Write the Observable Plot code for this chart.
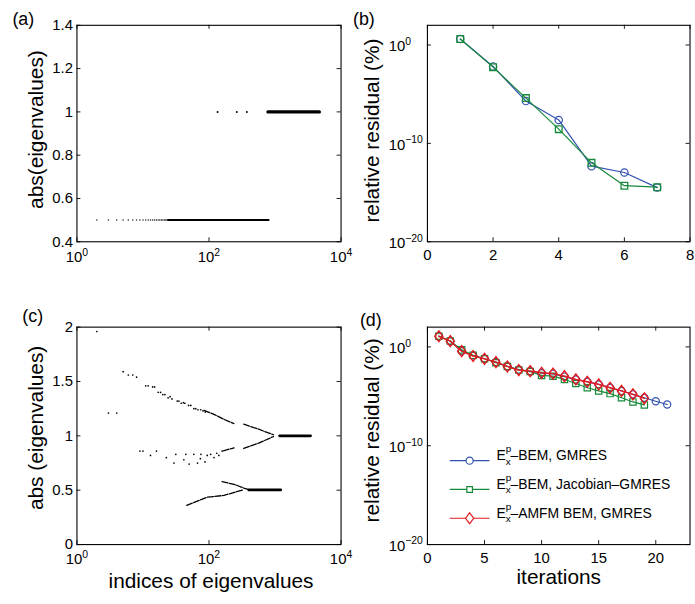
<!DOCTYPE html>
<html><head><meta charset="utf-8">
<script src="https://cdn.jsdelivr.net/npm/d3@7"></script>
<script src="https://cdn.jsdelivr.net/npm/@observablehq/plot@0.6"></script>
<style>
html,body{margin:0;padding:0;background:#fff;overflow:hidden}
#fig{position:relative;width:695px;height:604px;overflow:hidden;background:#fff}
#fig svg{position:absolute;left:0;top:0;background:transparent;overflow:visible}
</style></head><body><div id="fig"></div>
<script>
// ---------------- data ----------------
// (a) |eigenvalues| of preconditioned system
const aXTicks = [1, 1e2, 1e4];
const aYTicks = [0.4, 0.6, 0.8, 1, 1.2, 1.4];
const aHalfIdx = [2,3,4,5,6,7,8,9,10,11,12,13,14,15,16,17,18,19,20,21,22,23,24];
const aHalfRun = [[24, 0.5], [800, 0.5]];
const aOneIdx = [135, 264, 375];
const aOneRun = [[780, 1], [4700, 1]];

// (b) convergence, 7 iterations
const bIter = [1, 2, 3, 4, 5, 6, 7];
const bGmres = [4.0e0, 6.6e-3, 2.0e-6, 2.4e-8, 4.8e-13, 1.1e-13, 3.2e-15];
const bJacobi = [4.0e0, 5.6e-3, 4.0e-6, 2.8e-9, 1.05e-12, 5.0e-15, 3.5e-15];
const bXTicks = [0, 2, 4, 6, 8];
const logYTicks = [1e-20, 1e-10, 1e0];

// (c) |eigenvalues| of unpreconditioned system
const cXTicks = [1, 1e2, 1e4];
const cYTicks = [0, 0.5, 1, 1.5, 2];
const cDotIdx = [2,3,4,5,6,7,8,11,12,14,15,17,18.5,20,21.5,24,25.7,27.5,33,35,38,41,43,49,53,59,63,68,75,81,88,
                 9,10,13,16,22.6,29.5,31.4,41.6,44.6,50,59,67,74,75.5,87,94,106,119,131,141,158];
const cDotVal = [1.96,1.21,1.21,1.59,1.56,1.56,1.54,1.46,1.46,1.45,1.45,1.40,1.40,1.38,1.38,1.35,1.36,1.34,1.32,1.32,1.30,1.305,1.30,1.28,1.28,1.25,1.25,1.24,1.24,1.23,1.22,
                 0.86,0.86,0.82,0.86,0.80,0.75,0.83,0.78,0.83,0.74,0.83,0.75,0.79,0.83,0.76,0.82,0.83,0.80,0.84,0.82,0.86];
const cThinRuns = [
  [[84,1.235],[119,1.198],[168,1.152],[238,1.113]],
  [[336,1.107],[565,1.061],[949,1.01]],
  [[165,0.862],[240,0.89]],
  [[336,0.884],[565,0.933],[949,0.994]],
  [[46,0.36],[93,0.435],[168,0.452],[336,0.505]],
  [[158,0.58],[250,0.55],[336,0.52],[400,0.505]]
];
const cThickRuns = [
  [[1170,1.0],[3460,1.0]],
  [[400,0.503],[1222,0.503]]
];

// (d) convergence, 3 solvers
const dIter = [1,2,3,4,5,6,7,8,9,10,11,12,13,14,15,16,17,18,19,20,21];
const dGmres = [1.2e1,4.0e0,3.7e-1,1.3e-1,6.3e-2,2.9e-2,1.1e-2,5.0e-3,3.5e-3,2.2e-3,1.9e-3,1.0e-3,5.0e-4,3.0e-4,1.6e-4,7.4e-5,3.5e-5,1.6e-5,7.1e-6,3.2e-6,1.5e-6];
const dJacobi = [1.2e1,4.0e0,5.0e-1,1.4e-1,6.3e-2,2.5e-2,1.05e-2,4.5e-3,3.2e-3,1.3e-3,1.1e-3,5.1e-4,2.0e-4,7.4e-5,3.5e-5,1.9e-5,7.2e-6,2.7e-6,1.35e-6];
const dAmfm = [1.2e1,3.8e0,3.7e-1,1.2e-1,6.2e-2,2.9e-2,1.05e-2,4.5e-3,3.5e-3,2.4e-3,2.0e-3,1.1e-3,5.1e-4,3.0e-4,1.6e-4,7.4e-5,3.5e-5,1.6e-5,6.3e-6];
const dXTicks = [0, 5, 10, 15, 20];
const dLegend = ["\u2013BEM, GMRES", "\u2013BEM, Jacobian\u2013GMRES", "\u2013AMFM BEM, GMRES"];

// ---------------- styling / helpers ----------------
const FONT = '"Liberation Sans", Arial, Helvetica, sans-serif';
const W = 700, H = 604;
const BLUE = "#3352b0", GREEN = "#178a3a", RED = "#e5181e";
const TICK_FS = 15, LABEL_FS = 21, TAG_FS = 18;
const logFmt = d => "10^" + Math.round(Math.log10(d));

const diamond = {draw(ctx, size) {
  const r = Math.sqrt(size / Math.PI), w = r * 1.05, h = r * 1.4;
  ctx.moveTo(0, -h); ctx.lineTo(w, 0); ctx.lineTo(0, h); ctx.lineTo(-w, 0); ctx.closePath();
}};

function frameMarks(f, xTicks, yTicks) {
  const fw = f.r - f.l, fh = f.b - f.t, L = 4;
  const s = {stroke: "black", strokeWidth: 0.9};
  return [
    Plot.tickX(xTicks, {x: d => d, insetTop: fh - L, ...s}),
    Plot.tickX(xTicks, {x: d => d, insetBottom: fh - L, ...s}),
    Plot.tickY(yTicks, {y: d => d, insetRight: fw - L, ...s}),
    Plot.tickY(yTicks, {y: d => d, insetLeft: fw - L, ...s}),
    Plot.frame({stroke: "black", strokeWidth: 1.1})
  ];
}

function makePlot(f, x, y, marks) {
  return Plot.plot({
    width: W, height: H,
    marginLeft: f.l, marginTop: f.t, marginRight: W - f.r, marginBottom: H - f.b,
    style: {background: "transparent", overflow: "visible", fontFamily: FONT, color: "black"},
    x: {...x, axis: null}, y: {...y, axis: null},
    marks
  });
}

function supify(svg) {
  d3.select(svg).selectAll("text").each(function () {
    const m = /^10\^(-?\d+)$/.exec(this.textContent);
    if (!m) return;
    const e = m[1].replace("-", "\u2212");
    const sel = d3.select(this);
    sel.text(null);
    sel.append("tspan").text("10");
    sel.append("tspan").attr("dy", -6.5).attr("font-size", 10.5).text(e);
  });
}

const txt = {fill: "black", fontFamily: FONT};
const ylab = {frameAnchor: "left", rotate: -90, textAnchor: "middle", lineAnchor: "top", fontSize: LABEL_FS, text: d => d, ...txt};
const tag = {frameAnchor: "top-left", textAnchor: "start", lineAnchor: "top", fontSize: TAG_FS, text: d => d, ...txt};
const xlab = {frameAnchor: "bottom", textAnchor: "middle", lineAnchor: "top", fontSize: LABEL_FS, text: d => d, ...txt};
const fig = document.getElementById("fig");

// ---------------- (a) ----------------
{
  const f = {l: 77, t: 25, r: 343, b: 243};
  const svg = makePlot(f, {type: "log", domain: [1, 1e4]}, {domain: [0.4, 1.4]}, [
    Plot.dot(aHalfIdx, {x: d => d, y: () => 0.5, r: 0.75, fill: "#222", stroke: "none"}),
    Plot.line(aHalfRun, {x: d => d[0], y: d => d[1], stroke: "black", strokeWidth: 2}),
    Plot.dot(aOneIdx, {x: d => d, y: () => 1, r: 1, fill: "black", stroke: "none"}),
    Plot.line(aOneRun, {x: d => d[0], y: d => d[1], stroke: "black", strokeWidth: 3.2}),
    ...frameMarks(f, aXTicks, aYTicks),
    Plot.text(aXTicks, {x: d => d, frameAnchor: "bottom", textAnchor: "middle", lineAnchor: "top", dy: 10, text: logFmt, fontSize: TICK_FS, ...txt}),
    Plot.text(aYTicks, {y: d => d, frameAnchor: "left", textAnchor: "end", lineAnchor: "middle", dx: -4, text: d => String(d), fontSize: TICK_FS, ...txt}),
    Plot.text(["abs(eigenvalues)"], {...ylab, dx: -49, dy: -4}),
    Plot.text(["(a)"], {...tag, dx: -65, dy: -12.8})
  ]);
  supify(svg); fig.appendChild(svg);
}

// ---------------- (b) ----------------
{
  const f = {l: 430, t: 25, r: 694.5, b: 243};
  const rowsG = bIter.map((k, i) => ({k, v: bGmres[i]}));
  const rowsJ = bIter.map((k, i) => ({k, v: bJacobi[i]}));
  const svg = makePlot(f, {domain: [0, 8]}, {type: "log", domain: [1e-20, 1e2]}, [
    Plot.line(rowsG, {x: "k", y: "v", stroke: BLUE, strokeWidth: 1.2}),
    Plot.dot(rowsG, {x: "k", y: "v", symbol: "circle", r: 3.7, stroke: BLUE, fill: "none", strokeWidth: 1.2}),
    Plot.line(rowsJ, {x: "k", y: "v", stroke: GREEN, strokeWidth: 1.2}),
    Plot.dot(rowsJ, {x: "k", y: "v", symbol: "square", r: 3.8, stroke: GREEN, fill: "none", strokeWidth: 1.3}),
    ...frameMarks(f, bXTicks, logYTicks),
    Plot.text(bXTicks, {x: d => d, frameAnchor: "bottom", textAnchor: "middle", lineAnchor: "top", dy: 8, text: d => String(d), fontSize: TICK_FS, ...txt}),
    Plot.text(logYTicks, {y: d => d, frameAnchor: "left", textAnchor: "start", lineAnchor: "middle", dx: -39, dy: 1.5, text: logFmt, fontSize: TICK_FS, ...txt}),
    Plot.text(["relative residual (%)"], {...ylab, dx: -63.3, dy: -3}),
    Plot.text(["(b)"], {...tag, dx: -75, dy: -13.5})
  ]);
  supify(svg); fig.appendChild(svg);
}

// ---------------- (c) ----------------
{
  const f = {l: 77, t: 329, r: 343, b: 548};
  const dots = cDotIdx.map((i, k) => ({i, v: cDotVal[k]}));
  const thin = cThinRuns.flatMap((run, z) => run.map(([i, v]) => ({i, v, z})));
  const thick = cThickRuns.flatMap((run, z) => run.map(([i, v]) => ({i, v, z})));
  const svg = makePlot(f, {type: "log", domain: [1, 1e4]}, {domain: [0, 2]}, [
    Plot.dot(dots, {x: "i", y: "v", r: 0.85, fill: "black", stroke: "none"}),
    Plot.line(thin, {x: "i", y: "v", z: "z", stroke: "black", strokeWidth: 1.3, strokeDasharray: "6,1.5"}),
    Plot.line(thick, {x: "i", y: "v", z: "z", stroke: "black", strokeWidth: 2.6}),
    ...frameMarks(f, cXTicks, cYTicks),
    Plot.text(cXTicks, {x: d => d, frameAnchor: "bottom", textAnchor: "middle", lineAnchor: "top", dy: 9, text: logFmt, fontSize: TICK_FS, ...txt}),
    Plot.text(cYTicks, {y: d => d, frameAnchor: "left", textAnchor: "end", lineAnchor: "middle", dx: -4, text: d => String(d), fontSize: TICK_FS, ...txt}),
    Plot.text(["abs (eigenvalues)"], {...ylab, dx: -49, dy: -8}),
    Plot.text(["indices of eigenvalues"], {...xlab, dx: 2, dy: 29}),
    Plot.text(["(c)"], {...tag, dx: -55, dy: -17.8})
  ]);
  supify(svg); fig.appendChild(svg);
}

// ---------------- (d) ----------------
{
  const f = {l: 430, t: 329, r: 694.5, b: 548};
  const rG = dIter.slice(0, dGmres.length).map((k, i) => ({k, v: dGmres[i]}));
  const rJ = dIter.slice(0, dJacobi.length).map((k, i) => ({k, v: dJacobi[i]}));
  const rA = dIter.slice(0, dAmfm.length).map((k, i) => ({k, v: dAmfm[i]}));
  const svg = makePlot(f, {domain: [0, 23]}, {type: "log", domain: [1e-20, 1e2]}, [
    Plot.line(rG, {x: "k", y: "v", stroke: BLUE, strokeWidth: 1.2}),
    Plot.dot(rG, {x: "k", y: "v", symbol: "circle", r: 3.6, stroke: BLUE, fill: "none", strokeWidth: 1.2}),
    Plot.line(rJ, {x: "k", y: "v", stroke: GREEN, strokeWidth: 1.2}),
    Plot.dot(rJ, {x: "k", y: "v", symbol: "square", r: 3.6, stroke: GREEN, fill: "none", strokeWidth: 1.2}),
    Plot.line(rA, {x: "k", y: "v", stroke: RED, strokeWidth: 1.4}),
    Plot.dot(rA, {x: "k", y: "v", symbol: diamond, r: 3.9, stroke: RED, fill: "none", strokeWidth: 1.4}),
    ...frameMarks(f, dXTicks, logYTicks),
    Plot.text(dXTicks, {x: d => d, frameAnchor: "bottom", textAnchor: "middle", lineAnchor: "top", dy: 7.5, text: d => String(d), fontSize: TICK_FS, ...txt}),
    Plot.text(logYTicks, {y: d => d, frameAnchor: "left", textAnchor: "start", lineAnchor: "middle", dx: -39, dy: 1.5, text: logFmt, fontSize: TICK_FS, ...txt}),
    Plot.text(["relative residual (%)"], {...ylab, dx: -63.3, dy: -5.5}),
    Plot.text(["iterations"], {...xlab, dy: 25}),
    Plot.text(["(d)"], {...tag, dx: -68, dy: -14})
  ]);
  supify(svg);
  // legend (inside the axes, MATLAB style)
  const lg = d3.select(svg).append("g").attr("font-family", FONT).attr("fill", "black").attr("text-anchor", "start");
  const colors = [BLUE, GREEN, RED];
  const syms = [d3.symbolCircle, d3.symbolSquare, diamond];
  const symR = [3.6, 3.2, 3.9];
  dLegend.forEach((label, k) => {
    const yy = 464 + k * 29;
    lg.append("line").attr("x1", 453).attr("x2", 493).attr("y1", yy).attr("y2", yy)
      .attr("stroke", colors[k]).attr("stroke-width", 1.2);
    lg.append("path").attr("transform", `translate(473,${yy})`)
      .attr("d", d3.symbol(syms[k], Math.PI * symR[k] * symR[k])())
      .attr("fill", "white").attr("stroke", colors[k]).attr("stroke-width", 1.2);
    const t = lg.append("text").attr("x", 500).attr("y", yy - 0.5).attr("font-size", 14).attr("text-anchor", "start");
    t.append("tspan").text("E");
    t.append("tspan").attr("font-size", 10).attr("dy", -8).text("p");
    t.append("tspan").attr("font-size", 10).attr("dx", -5.6).attr("dy", 12.5).text("x");
    t.append("tspan").attr("dy", -4.5).text(label);
  });
  fig.appendChild(svg);
}
</script></body></html>
